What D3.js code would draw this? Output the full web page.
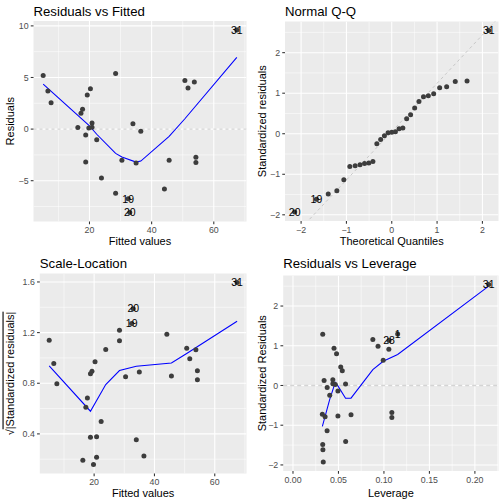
<!DOCTYPE html>
<html>
<head>
<meta charset="utf-8">
<script src="https://cdn.jsdelivr.net/npm/d3@7"></script>
<style>
  html, body { margin: 0; padding: 0; background: #ffffff; }
  svg { display: block; }
</style>
</head>
<body>
<script>
const obsId = d3.range(1, 32);
const fitted = [5.10,6.62,7.64,16.25,17.26,17.77,18.78,18.78,19.29,19.79,20.30,20.81,20.81,22.33,23.85,28.41,28.41,30.43,32.46,32.97,33.98,34.99,36.51,44.11,45.63,50.70,51.71,53.74,54.24,54.24,67.41];
const residuals = [5.20,3.68,2.56,0.15,1.54,1.93,-3.18,-0.58,3.31,0.11,3.90,0.19,0.59,-1.03,-4.75,-6.21,5.39,-3.03,-6.76,-8.07,0.52,-3.29,-0.21,-5.81,-3.03,4.70,3.99,4.56,-2.74,-3.24,9.59];
const stdResid = [1.299,0.914,0.635,0.037,0.372,0.467,-0.767,-0.140,0.798,0.025,0.938,0.046,0.142,-0.247,-1.138,-1.484,1.290,-0.725,-1.617,-1.929,0.125,-0.788,-0.051,-1.408,-0.737,1.158,0.986,1.135,-0.683,-0.808,2.545];
const sqrtAbsStd = [1.140,0.956,0.797,0.192,0.610,0.683,0.876,0.374,0.894,0.159,0.969,0.215,0.377,0.497,1.067,1.218,1.136,0.852,1.271,1.389,0.353,0.888,0.225,1.187,0.858,1.076,0.993,1.065,0.827,0.899,1.595];
const leverage = [0.1151,0.1054,0.0992,0.0578,0.0542,0.0525,0.0494,0.0494,0.0479,0.0465,0.0451,0.0438,0.0438,0.0404,0.0375,0.0327,0.0327,0.0323,0.0329,0.0333,0.0342,0.0353,0.0376,0.0579,0.0638,0.0878,0.0935,0.1056,0.1087,0.1087,0.2152];
// theoretical normal quantiles for the sorted standardized residuals
const theoQ = [-2.141,-1.661,-1.401,-1.211,-1.057,-0.925,-0.807,-0.700,-0.600,-0.506,-0.416,-0.329,-0.245,-0.162,-0.081,0,0.081,0.162,0.245,0.329,0.416,0.506,0.600,0.700,0.807,0.925,1.057,1.211,1.401,1.661,2.141];
// Q-Q reference line through the quartiles (theoretical, sample)
const qqQuartiles = [[-0.6745,-0.752],[0.6745,0.856]];

// smoothed (lowess) curves
const smoothResFit = [[5.10,4.35],[20.0,0.32],[22.33,-0.5],[28.41,-2.35],[30.43,-2.7],[34.99,-3.2],[36.51,-3.1],[45.63,-0.7],[50.70,1.0],[67.41,6.94]];
const smoothScaleLoc = [[5.10,0.937],[18.78,0.579],[23.85,0.79],[28.41,0.90],[33.98,0.935],[45.63,0.96],[50.70,1.035],[67.41,1.29]];
const smoothLeverage = [[0.0323,-1.03],[0.0404,-0.35],[0.0465,0.08],[0.0494,-0.01],[0.0578,-0.32],[0.0638,-0.32],[0.0878,0.40],[0.0992,0.61],[0.1151,0.78],[0.2152,2.50]];

const labeledTop = [31, 20, 19];
const labeledLev = [31, 1, 28];

// tick values
const fitTicks = [20, 40, 60], fitMinor = [10, 30, 50, 70];
const resTicks = [-5, 0, 5, 10], resMinor = [-7.5, -2.5, 2.5, 7.5];
const qTicks = [-2, -1, 0, 1, 2], qMinor = [-1.5, -0.5, 0.5, 1.5];
const stdTicks = [-2, -1, 0, 1, 2], stdMinor = [-1.5, -0.5, 0.5, 1.5, 2.5];
const slTicks = [0.4, 0.8, 1.2, 1.6], slMinor = [0.2, 0.6, 1.0, 1.4];
const levTicks = [0, 0.05, 0.10, 0.15, 0.20], levMinor = [0.025, 0.075, 0.125, 0.175, 0.225];

// ---- Drawing ----
const W = 504, H = 504;
const FONT = "'Liberation Sans', Arial, Helvetica, sans-serif";
const svg = d3.select("body").append("svg").attr("width", W).attr("height", H)
  .style("font-family", FONT);

function expand(ext) { const r = ext[1] - ext[0]; return [ext[0] - 0.05 * r, ext[1] + 0.05 * r]; }

let clipId = 0;
function panel(cfg) {
  const x = d3.scaleLinear().domain(cfg.xDomain).range([cfg.left, cfg.right]);
  const y = d3.scaleLinear().domain(cfg.yDomain).range([cfg.bottom, cfg.top]);
  const g = svg.append("g");
  const id = "clip" + (clipId++);
  g.append("clipPath").attr("id", id).append("rect")
    .attr("x", cfg.left).attr("y", cfg.top)
    .attr("width", cfg.right - cfg.left).attr("height", cfg.bottom - cfg.top);
  g.append("rect").attr("x", cfg.left).attr("y", cfg.top)
    .attr("width", cfg.right - cfg.left).attr("height", cfg.bottom - cfg.top)
    .attr("fill", "#EBEBEB");
  const inner = g.append("g").attr("clip-path", `url(#${id})`);
  // minor grid
  inner.selectAll(null).data(cfg.xMinor).join("line")
    .attr("x1", d => x(d)).attr("x2", d => x(d)).attr("y1", cfg.top).attr("y2", cfg.bottom)
    .attr("stroke", "#fff").attr("stroke-width", 0.53);
  inner.selectAll(null).data(cfg.yMinor).join("line")
    .attr("y1", d => y(d)).attr("y2", d => y(d)).attr("x1", cfg.left).attr("x2", cfg.right)
    .attr("stroke", "#fff").attr("stroke-width", 0.53);
  // major grid
  inner.selectAll(null).data(cfg.xTicks).join("line")
    .attr("x1", d => x(d)).attr("x2", d => x(d)).attr("y1", cfg.top).attr("y2", cfg.bottom)
    .attr("stroke", "#fff").attr("stroke-width", 1.07);
  inner.selectAll(null).data(cfg.yTicks).join("line")
    .attr("y1", d => y(d)).attr("y2", d => y(d)).attr("x1", cfg.left).attr("x2", cfg.right)
    .attr("stroke", "#fff").attr("stroke-width", 1.07);
  // axes ticks & labels
  g.selectAll(null).data(cfg.xTicks).join("line")
    .attr("x1", d => x(d)).attr("x2", d => x(d)).attr("y1", cfg.bottom).attr("y2", cfg.bottom + 2.75)
    .attr("stroke", "#333").attr("stroke-width", 1.07);
  g.selectAll(null).data(cfg.xTicks).join("text")
    .attr("x", d => x(d)).attr("y", cfg.bottom + 11.6)
    .attr("text-anchor", "middle").attr("font-size", 8.8).attr("fill", "#4D4D4D")
    .text(cfg.xFmt);
  g.selectAll(null).data(cfg.yTicks).join("line")
    .attr("y1", d => y(d)).attr("y2", d => y(d)).attr("x1", cfg.left - 2.75).attr("x2", cfg.left)
    .attr("stroke", "#333").attr("stroke-width", 1.07);
  g.selectAll(null).data(cfg.yTicks).join("text")
    .attr("x", cfg.left - 4.95).attr("y", d => y(d)).attr("dy", "0.35em")
    .attr("text-anchor", "end").attr("font-size", 8.8).attr("fill", "#4D4D4D")
    .text(cfg.yFmt);
  // titles
  g.append("text").attr("x", cfg.left).attr("y", cfg.titleY)
    .attr("font-size", 13.2).attr("fill", "#000").text(cfg.title);
  g.append("text").attr("x", (cfg.left + cfg.right) / 2).attr("y", cfg.xTitleY)
    .attr("text-anchor", "middle").attr("font-size", 11).attr("fill", "#000").text(cfg.xTitle);
  const yt = g.append("text")
    .attr("transform", `translate(${cfg.yTitleX},${(cfg.top + cfg.bottom) / 2}) rotate(-90)`)
    .attr("text-anchor", "middle").attr("font-size", 11).attr("fill", "#000");
  if (cfg.sqrtTitle) {
    yt.append("tspan").text("\u221A");
    yt.append("tspan").style("text-decoration", "overline").text(cfg.yTitle);
  } else {
    yt.text(cfg.yTitle);
  }
  return { x, y, inner, g };
}

function drawPoints(p, xs, ys) {
  p.inner.selectAll(null).data(xs).join("circle")
    .attr("cx", d => p.x(d)).attr("cy", (d, i) => p.y(ys[i])).attr("r", 2.5)
    .attr("fill", "#3D3D3D");
}
function drawLabels(p, xs, ys, ids) {
  p.g.selectAll(null).data(ids).join("text")
    .attr("x", id => p.x(xs[id - 1])).attr("y", id => p.y(ys[id - 1])).attr("dy", "0.35em")
    .attr("text-anchor", "middle").attr("font-size", 10.5).attr("fill", "#000")
    .text(id => id);
}
function drawSmooth(p, pts) {
  p.inner.append("path").datum(pts)
    .attr("d", d3.line().x(d => p.x(d[0])).y(d => p.y(d[1])))
    .attr("fill", "none").attr("stroke", "#0000FF").attr("stroke-width", 1.07);
}
function drawHZero(p, color, width, dash) {
  p.inner.append("line").attr("x1", p.x.range()[0]).attr("x2", p.x.range()[1])
    .attr("y1", p.y(0)).attr("y2", p.y(0))
    .attr("stroke", color).attr("stroke-width", width).attr("stroke-dasharray", dash);
}

const fmtInt = d => d3.format("d")(d);

// Panel 1: Residuals vs Fitted
const p1 = panel({
  left: 33.5, right: 246.5, top: 21, bottom: 221.5,
  xDomain: expand(d3.extent(fitted)), yDomain: expand(d3.extent(residuals)),
  xTicks: fitTicks, xMinor: fitMinor, yTicks: resTicks, yMinor: resMinor,
  xFmt: fmtInt, yFmt: fmtInt,
  title: "Residuals vs Fitted", titleY: 15.5, xTitle: "Fitted values", xTitleY: 245,
  yTitle: "Residuals", yTitleX: 13.5
});
drawHZero(p1, "#BEBEBE", 0.8, "3,3");
drawSmooth(p1, smoothResFit);
drawPoints(p1, fitted, residuals);
drawLabels(p1, fitted, residuals, labeledTop);

// Panel 2: Normal Q-Q
const sortedStd = d3.sort(stdResid);
const rankIds = d3.sort(obsId, id => stdResid[id - 1]);
const p2 = panel({
  left: 285, right: 498.5, top: 21.5, bottom: 221,
  xDomain: expand(d3.extent(theoQ)), yDomain: expand(d3.extent(stdResid)),
  xTicks: qTicks, xMinor: qMinor, yTicks: stdTicks, yMinor: stdMinor,
  xFmt: fmtInt, yFmt: fmtInt,
  title: "Normal Q-Q", titleY: 15.5, xTitle: "Theoretical Quantiles", xTitleY: 245,
  yTitle: "Standardized residuals", yTitleX: 265.5
});
{
  const [[qa, sa], [qb, sb]] = qqQuartiles;
  const slope = (sb - sa) / (qb - qa), icpt = sa - slope * qa;
  const xd = p2.x.domain();
  p2.inner.append("line")
    .attr("x1", p2.x(xd[0])).attr("y1", p2.y(icpt + slope * xd[0]))
    .attr("x2", p2.x(xd[1])).attr("y2", p2.y(icpt + slope * xd[1]))
    .attr("stroke", "#BEBEBE").attr("stroke-width", 0.8).attr("stroke-dasharray", "3,3");
}
drawPoints(p2, theoQ, sortedStd);
p2.g.selectAll(null).data(labeledTop).join("text")
  .attr("x", id => p2.x(theoQ[rankIds.indexOf(id)]))
  .attr("y", id => p2.y(stdResid[id - 1])).attr("dy", "0.35em")
  .attr("text-anchor", "middle").attr("font-size", 10.5).attr("fill", "#000")
  .text(id => id);

// Panel 3: Scale-Location
const p3 = panel({
  left: 39.8, right: 246.5, top: 273.5, bottom: 473.5,
  xDomain: expand(d3.extent(fitted)), yDomain: expand(d3.extent(sqrtAbsStd)),
  xTicks: fitTicks, xMinor: fitMinor, yTicks: slTicks, yMinor: slMinor,
  xFmt: fmtInt, yFmt: d3.format(".1f"),
  title: "Scale-Location", titleY: 267.5, xTitle: "Fitted values", xTitleY: 497,
  yTitle: "|Standardized residuals|", yTitleX: 13.5, sqrtTitle: true
});
drawSmooth(p3, smoothScaleLoc);
drawPoints(p3, fitted, sqrtAbsStd);
drawLabels(p3, fitted, sqrtAbsStd, labeledTop);

// Panel 4: Residuals vs Leverage
const p4 = panel({
  left: 283.2, right: 498.5, top: 275.5, bottom: 471,
  xDomain: expand([0, d3.max(leverage)]), yDomain: expand(d3.extent(stdResid)),
  xTicks: levTicks, xMinor: levMinor, yTicks: stdTicks, yMinor: stdMinor,
  xFmt: d3.format(".2f"), yFmt: fmtInt,
  title: "Residuals vs Leverage", titleY: 267.5, xTitle: "Leverage", xTitleY: 497,
  yTitle: "Standardized Residuals", yTitleX: 265.5
});
drawHZero(p4, "#D4D4D4", 1.6, "4,3");
drawSmooth(p4, smoothLeverage);
drawPoints(p4, leverage, stdResid);
drawLabels(p4, leverage, stdResid, labeledLev);
</script>
</body>
</html>
